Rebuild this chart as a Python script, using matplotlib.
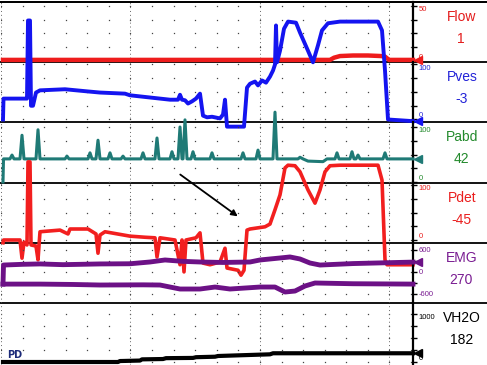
import matplotlib
matplotlib.use('Agg')
import matplotlib.pyplot as plt
from matplotlib.lines import Line2D
import numpy as np

plt.rcParams['font.family'] = ['Liberation Sans', 'DejaVu Sans']

# ---- trace data (time in sample units, values in channel units) ----
flow_t = [0, 327, 331, 337, 350, 365, 378, 382, 386, 410]
flow_v = [1, 1, 3, 4.5, 5, 5, 4.5, 4, 1, 1]

pves_t = [0, 0.5, 22, 24, 25, 27, 28, 30, 33, 37, 62, 85, 97, 122, 127, 147, 157, 167, 175, 177,
          179, 182, 185, 189, 193, 197, 200, 204, 209, 217, 220, 222, 224, 241, 244, 247, 252,
          255, 259, 263, 267, 270, 272, 273, 274, 277, 281, 285, 293, 297, 305, 310, 315, 319,
          325, 337, 375, 379, 382, 385, 410]
pves_v = [0, 38, 38, 38, 180, 180, 25, 25, 49, 53, 55, 51, 49, 47, 44, 40, 38, 36, 36, 45,
          36, 35, 29, 33, 38, 47, 7, 4, 5, 2, 9, 36, -13, -13, 58, 65, 69,
          62, 71, 67, 78, 89, 100, 171, 104, 125, 165, 178, 176, 158, 125, 104, 135, 162,
          175, 178, 178, 162, 89, 0, -3]

pabd_t = [0, 0.5, 7, 9, 11, 17, 19, 21, 33, 35, 37, 62, 64, 66, 85, 87, 89, 93, 95, 97, 105, 107,
          109, 118, 120, 122, 138, 140, 142, 152, 154, 156, 167, 169, 171, 175, 177, 179, 180,
          182, 184, 188, 190, 192, 207, 209, 211, 238, 240, 242, 253, 255, 257, 270, 272, 274,
          295, 297, 300, 305, 320, 324, 332, 334, 336, 347, 349, 351, 353, 355, 357, 380, 382,
          384, 410]
pabd_v = [0, 42, 42, 49, 42, 42, 85, 42, 42, 95, 42, 42, 47, 42, 42, 53, 42, 42, 76, 42, 42, 53,
          42, 42, 47, 42, 42, 53, 42, 42, 80, 42, 42, 55, 42, 42, 100, 42, 42,
          113, 42, 42, 55, 42, 42, 53, 42, 42, 53, 42, 42, 58, 42, 42, 127, 42,
          42, 45, 42, 38, 37, 42, 42, 53, 42, 42, 55, 42, 42, 49, 42, 42, 53,
          42, 42]

pdet_t = [0, 0.5, 17, 19, 21, 24, 25, 27, 28, 33, 35, 37, 57, 65, 67, 85, 93, 95, 97, 102, 127,
          142, 152, 154, 157, 172, 177, 179, 181, 183, 193, 197, 200, 207, 217, 222, 224, 235,
          238, 241, 244, 247, 262, 267, 272, 277, 282, 285, 292, 297, 305, 312, 317, 322, 327,
          337, 375, 379, 382, 384, 410]
pdet_v = [-5, 0, 0, -33, -4, -9, 142, 142, -9, -11, -36, 15, 18, 11, 20, 20, 11, -24, 9, 15, 7,
          5, 4, -31, 4, 0, -45, 0, -58, 0, 4, 13, -42, -45, -40, -15, -51, -55,
          -64, -55, 18, 20, 24, 29, 55, 82, 131, 136, 135, 124, 91, 67, 91, 124, 135,
          136, 136, 109, -36, -45, -45]

emg_up_t = [0, 0.5, 20, 37, 60, 97, 127, 147, 162, 180, 197, 220, 247, 257, 277, 287, 297,
            307, 317, 350, 380, 410]
emg_up_v = [-330, 190, 210, 220, 200, 220, 225, 273, 328, 290, 273, 260, 273, 328, 382, 410, 355,
            245, 190, 230, 250, 270]
emg_lo_t = [0, 37, 70, 97, 140, 157, 167, 177, 197, 212, 227, 257, 272, 282, 292, 302, 312,
            350, 410]
emg_lo_v = [-330, -330, -340, -355, -350, -355, -410, -464, -464, -410, -464, -410, -410, -546,
            -519, -382, -300, -320, -330]

vh2o_t = [0, 115, 117, 137, 139, 160, 163, 190, 193, 212, 215, 267, 270, 410]
vh2o_v = [0, 0, 20, 30, 55, 62, 80, 85, 100, 110, 125, 160, 182, 182]

names = ['Flow', 'Pves', 'Pabd', 'Pdet', 'EMG', 'VH2O']
current = ['1', '-3', '42', '-45', '270', '182']
scale_labels = [['50', '0'], ['100', '0'], ['100', '0'], ['100', '0'], ['600', '0', '-600'], ['1000', '0']]
scale_values = [[50, 0], [100, 0], [100, 0], [100, 0], [600, 0, -600], [1000, 0]]

# ---- layout (pixels) ----
W, H = 487.0, 365.0
# top, bottom, zero line, px per unit
geom = [(2, 62, 61, 1.1), (62, 122, 119.5, 0.55), (122, 183, 182, 0.55),
        (183, 243, 240, 0.55), (243, 303, 272, 22 / 600), (303, 365, 362, 0.048)]
trace_col = ['#ee1c1c', '#1414f0', '#1f7a76', '#f21f1f', '#6c1186', '#000000']
text_col = ['#e31b1b', '#2323d8', '#238a2c', '#ea1e1e', '#7a1d92', '#000000']
ticks = [[0, 12.5, 25, 37.5, 50], [0, 25, 50, 75, 100], [0, 25, 50, 75, 100],
         [0, 25, 50, 75, 100], [-600, -300, 0, 300, 600], [0, 250, 500, 750, 1000]]

fig = plt.figure(figsize=(W / 100, H / 100), dpi=100)

minor_x = -2 + 21.58 * np.arange(20)
major_x = minor_x[::6]

axes = []
for i, (top, bot, zero, s) in enumerate(geom):
    ax = fig.add_axes([1 / W, 1 - bot / H, 412 / W, (bot - top) / H])
    ax.set_facecolor('none')
    ax.set_xlim(-2, 410)
    ax.set_ylim(-(bot - zero) / s, (zero - top) / s)
    for sp in ['left', 'top', 'bottom']:
        ax.spines[sp].set_visible(False)
    ax.spines['right'].set_linewidth(1.6)
    ax.set_xticks([])
    ax.yaxis.tick_right()
    ax.set_yticks(ticks[i])
    ax.set_yticklabels([])
    ax.tick_params(axis='y', direction='out', length=3, width=1, color='black')
    # dotted grid
    xx, yy = np.meshgrid(minor_x, ticks[i])
    ax.plot(xx.ravel(), yy.ravel(), ls='none', marker='s', ms=0.9, mew=0, color='#444444', zorder=1)
    for mx in major_x:
        ax.axvline(mx, color='#666666', lw=0.7, ls=(0, (1, 3)), zorder=1)
    # right-hand text
    for lab, val in zip(scale_labels[i], scale_values[i]):
        if i == 4:
            va = 'center'
        else:
            va = 'top' if val != 0 else 'bottom'
        ax.text(1.013, val, lab, transform=ax.get_yaxis_transform(), fontsize=5.5,
                color=text_col[i], ha='left', va=va)
    ax.text(1.119, 1 - 15 / (bot - top), names[i], transform=ax.transAxes, fontsize=10,
            color=text_col[i], ha='center', va='center')
    ax.text(1.117, 1 - 37 / (bot - top), current[i], transform=ax.transAxes, fontsize=10,
            color=text_col[i], ha='center', va='center')
    axes.append(ax)

# channel separators across full width
for top, bot, zero, s in geom:
    fig.add_artist(Line2D([0, 1], [1 - top / H, 1 - top / H], transform=fig.transFigure,
                          color='black', lw=1.3, zorder=-1))
fig.add_artist(Line2D([0, 1], [1 - 1.5 / H, 1 - 1.5 / H], transform=fig.transFigure,
                      color='black', lw=1.3, zorder=-1))

ax_flow, ax_pves, ax_pabd, ax_pdet, ax_emg, ax_vh2o = axes
ax_flow.plot(flow_t, flow_v, color=trace_col[0], lw=3.2, clip_on=False, zorder=3)
ax_pves.plot(pves_t, pves_v, color=trace_col[1], lw=2.8, clip_on=False, zorder=3)
ax_pabd.plot(pabd_t, pabd_v, color=trace_col[2], lw=2.2, clip_on=False, zorder=3)
ax_pdet.plot(pdet_t, pdet_v, color=trace_col[3], lw=2.6, clip_on=False, zorder=3)
ax_emg.plot(emg_up_t, emg_up_v, color=trace_col[4], lw=3.5, clip_on=False, zorder=3)
ax_emg.plot(emg_lo_t, emg_lo_v, color=trace_col[4], lw=3.5, clip_on=False, zorder=3)
ax_vh2o.plot(vh2o_t, vh2o_v, color=trace_col[5], lw=3.0, clip_on=False, zorder=3)

# current value markers on the right axis
marks = [(ax_flow, flow_v[-1], 0), (ax_pves, pves_v[-1], 1), (ax_pabd, pabd_v[-1], 2),
         (ax_emg, emg_up_v[-1], 4), (ax_vh2o, vh2o_v[-1], 5)]
for ax, val, k in marks:
    ax.plot([1.012], [val], marker='<', ms=6, color=trace_col[k], transform=ax.get_yaxis_transform(),
            clip_on=False, zorder=4)

ax_vh2o.text(0.014, 0.16, 'PD', transform=ax_vh2o.transAxes, fontsize=7, fontweight='bold',
             color='#1c2a78', ha='left', va='center', family='DejaVu Sans')

ax_pdet.annotate('', xy=(237, 40), xytext=(175, 122), annotation_clip=False,
                 arrowprops=dict(arrowstyle='-|>', color='black', lw=1.3, mutation_scale=9))

fig.savefig('out.png', dpi=100)
